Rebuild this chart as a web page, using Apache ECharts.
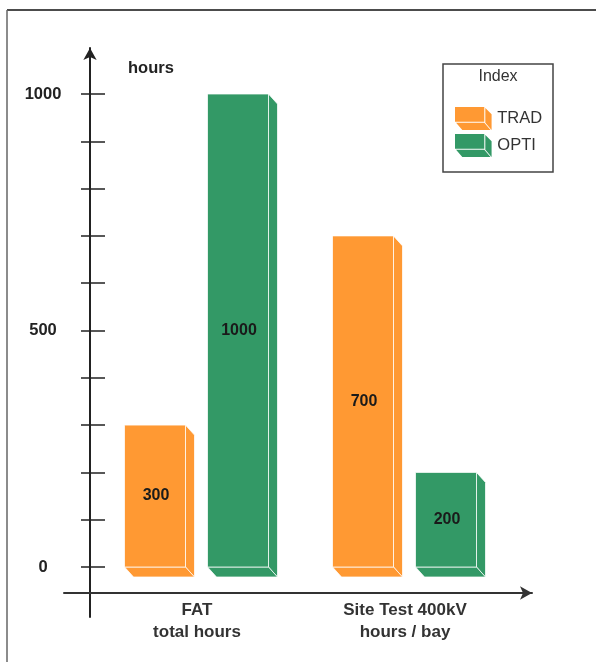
<!DOCTYPE html>
<html>
<head>
<meta charset="utf-8">
<script src="https://cdn.jsdelivr.net/npm/echarts@6/dist/echarts.min.js"></script>
<style>
html,body{margin:0;padding:0;background:#fff;}
#chart{width:596px;height:662px;}
</style>
</head>
<body>
<div id="chart"></div>
<script>
// ---- data ----
var categories = ['FAT\ntotal hours', 'Site Test 400kV\nhours / bay'];
var seriesNames = ['TRAD', 'OPTI'];
var tradValues = [300, 700];
var optiValues = [1000, 200];
var yTicks = [0, 500, 1000];

// ---- style ----
var COLORS = ['#FF9933', '#339966'];
var BAR_W = 61, DX = 9, DY = 10;
var OFFSETS = [-42, 41];
var FONT = '"Liberation Sans", Arial, sans-serif';

function makeRender(offset, color) {
  return function (params, api) {
    var cat = api.value(0), v = api.value(1);
    var top = api.coord([cat, v]);
    var base = api.coord([cat, 0]);
    var cx = top[0] + offset;
    var x0 = cx - BAR_W / 2, x1 = cx + BAR_W / 2;
    var yT = top[1], yB = base[1];
    var edge = { fill: color, stroke: 'rgba(255,255,255,0.75)', lineWidth: 1 };
    return {
      type: 'group',
      children: [
        { type: 'polygon', shape: { points: [[x1, yT], [x1 + DX, yT + DY], [x1 + DX, yB + DY], [x1, yB]] }, style: edge },
        { type: 'polygon', shape: { points: [[x0, yB], [x1, yB], [x1 + DX, yB + DY], [x0 + DX, yB + DY]] }, style: edge },
        { type: 'rect', shape: { x: x0, y: yT, width: BAR_W, height: yB - yT }, style: edge },
        { type: 'text', x: cx + 1, y: (yT + yB) / 2, style: { text: String(v), fill: '#1a1a1a', font: 'bold 16px ' + FONT, align: 'center', verticalAlign: 'middle' } }
      ]
    };
  };
}

function toData(vals) { return vals.map(function (v, i) { return [i, v]; }); }

var chart = echarts.init(document.getElementById('chart'), null, { renderer: 'canvas' });
var ICON = 'path://M0,0 L28,0 L28,14 L0,14 Z M29,1 L35,7 L35,22 L29,15 Z M1,15 L28,15 L34,22 L7,22 Z';

chart.setOption({
  animation: false,
  backgroundColor: '#fff',
  textStyle: { fontFamily: FONT },
  grid: [
    { left: 93, right: 87, top: 94, bottom: 95 },
    { left: 90, width: 100, top: 48, bottom: 45 },
    { left: 64, right: 64, top: 100, bottom: 69 }
  ],
  xAxis: [
    { type: 'category', gridIndex: 0, data: categories, axisLine: { show: false }, axisTick: { show: false },
      axisLabel: { margin: 32, color: '#333', fontWeight: 'bold', fontSize: 17, lineHeight: 22, fontFamily: FONT } },
    { type: 'value', gridIndex: 1, show: false },
    { type: 'value', gridIndex: 2, min: 0, max: 1, axisLine: { show: true, symbol: ['none', 'arrow'], symbolSize: [10, 12], lineStyle: { color: '#333', width: 2 } },
      axisTick: { show: false }, axisLabel: { show: false }, splitLine: { show: false } }
  ],
  yAxis: [
    { type: 'value', gridIndex: 0, min: 0, max: 1000, interval: 100,
      name: 'hours', nameLocation: 'end', nameGap: 17,
      nameTextStyle: { fontWeight: 'bold', fontSize: 16.5, color: '#222', align: 'left', padding: [0, 0, 0, 35], fontFamily: FONT },
      axisLine: { show: false }, splitLine: { show: false },
      axisTick: { show: true, length: 12, lineStyle: { color: '#222', width: 1.5 } },
      axisLabel: { margin: 50, align: 'center', fontWeight: 'bold', fontSize: 16.5, color: '#222', fontFamily: FONT,
        formatter: function (v) { return yTicks.indexOf(v) >= 0 ? String(v) : ''; } } },
    { type: 'value', gridIndex: 0, position: 'left', min: 0, max: 1000, interval: 100,
      axisLine: { show: false }, splitLine: { show: false }, axisLabel: { show: false },
      axisTick: { show: true, inside: true, length: 12, lineStyle: { color: '#222', width: 1.5 } } },
    { type: 'value', gridIndex: 1, min: 0, max: 1, axisLine: { show: true, symbol: ['none', 'arrow'], symbolSize: [10, 12], lineStyle: { color: '#222', width: 2 } },
      axisTick: { show: false }, axisLabel: { show: false }, splitLine: { show: false } },
    { type: 'value', gridIndex: 2, show: false }
  ],
  legend: {
    orient: 'vertical', left: 455, top: 107, padding: 0, itemWidth: 38, itemHeight: 23, itemGap: 4, itemStyle: { borderWidth: 0 },
    textStyle: { fontSize: 16.5, color: '#333', fontFamily: FONT },
    data: [{ name: 'TRAD', icon: ICON }, { name: 'OPTI', icon: ICON }]
  },
  graphic: [
    { type: 'line', shape: { x1: 7, y1: 10, x2: 596, y2: 10 }, style: { stroke: '#111', lineWidth: 1.5 } },
    { type: 'line', shape: { x1: 7, y1: 10, x2: 7, y2: 662 }, style: { stroke: '#666', lineWidth: 1.5 } },
    { type: 'rect', shape: { x: 443, y: 64, width: 110, height: 108 }, style: { fill: 'none', stroke: '#444', lineWidth: 1.5 } },
    { type: 'text', x: 498, y: 77, style: { text: 'Index', font: '16px ' + FONT, fill: '#333', align: 'center', verticalAlign: 'middle' } }
  ],
  series: [
    { name: seriesNames[0], type: 'custom', xAxisIndex: 0, yAxisIndex: 0, itemStyle: { color: COLORS[0] },
      renderItem: makeRender(OFFSETS[0], COLORS[0]), encode: { x: 0, y: 1 }, data: toData(tradValues) },
    { name: seriesNames[1], type: 'custom', xAxisIndex: 0, yAxisIndex: 0, itemStyle: { color: COLORS[1] },
      renderItem: makeRender(OFFSETS[1], COLORS[1]), encode: { x: 0, y: 1 }, data: toData(optiValues) }
  ]
});
</script>
</body>
</html>
